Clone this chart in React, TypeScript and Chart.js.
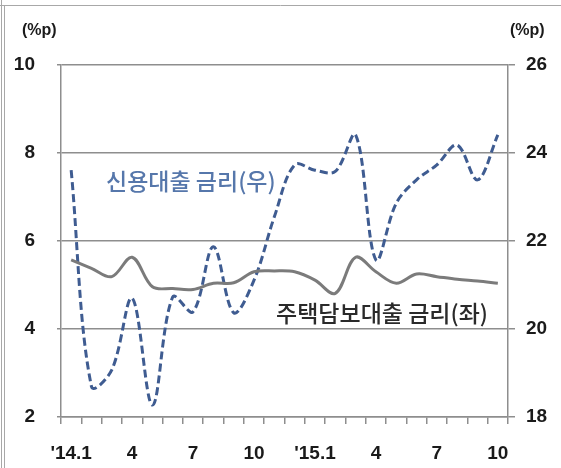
import React, { useEffect, useRef } from "react";
import { Chart, registerables } from "chart.js";

Chart.register(...registerables);

// Monthly spread series, Jan 2014 – Oct 2015
const months = ["'14.1", "2", "3", "4", "5", "6", "7", "8", "9", "10", "11", "12",
  "'15.1", "2", "3", "4", "5", "6", "7", "8", "9", "10"];
const mortgageRate = [5.57, 5.38, 5.19, 5.63, 4.96, 4.92, 4.90, 5.04, 5.05, 5.30, 5.32,
  5.30, 5.11, 4.81, 5.63, 5.30, 5.04, 5.25, 5.19, 5.13, 5.09, 5.04];
const creditRate = [23.61, 18.69, 19.07, 20.70, 18.27, 20.73, 20.39, 21.87, 20.37, 21.11, 22.55,
  23.73, 23.61, 23.58, 24.41, 21.57, 22.86, 23.39, 23.73, 24.18, 23.39, 24.41];
const leftTicks = [2, 4, 6, 8, 10];
const rightTicks = [18, 20, 22, 24, 26];
const unitLabel = "(%p)";
const creditLabel = "신용대출 금리(우)";
const mortgageLabel = "주택담보대출 금리(좌)";

const GRID = "#8e8e8e";
const TICK_FONT = { family: "'Liberation Sans', Arial, sans-serif", size: 19, weight: "bold" as const };

const decorPlugin = {
  id: "decor",
  beforeDraw(chart: Chart) {
    const { ctx, width, height } = chart;
    ctx.save();
    ctx.fillStyle = "#ffffff";
    ctx.fillRect(0, 0, width, height);
    ctx.strokeStyle = "#a8a8a8";
    ctx.lineWidth = 1;
    ctx.beginPath();
    ctx.moveTo(1.5, 0); ctx.lineTo(1.5, height);
    ctx.moveTo(4.5, 6); ctx.lineTo(4.5, height);
    ctx.moveTo(0, 5.5); ctx.lineTo(width, 5.5);
    ctx.stroke();
    ctx.restore();
  },
  afterDraw(chart: Chart) {
    const { ctx } = chart;
    ctx.save();
    ctx.textBaseline = "middle";
    ctx.fillStyle = "#1a1a1a";
    ctx.font = "bold 16px 'Liberation Sans', Arial, sans-serif";
    ctx.textAlign = "left";
    ctx.fillText(unitLabel, 22, 31);
    ctx.fillText(unitLabel, 510, 31);

    ctx.font = "500 23px 'Noto Sans CJK KR', sans-serif";
    ctx.fillStyle = "#5677ab";
    ctx.fillText(creditLabel, 106, 181);
    ctx.fillStyle = "#2a2a2a";
    ctx.fillText(mortgageLabel, 276, 313);
    ctx.restore();
  },
};

export default function App() {
  const ref = useRef<HTMLCanvasElement>(null);

  useEffect(() => {
    if (!ref.current) return;
    const chart = new Chart(ref.current, {
      type: "line",
      data: {
        labels: months,
        datasets: [
          {
            label: mortgageLabel,
            data: mortgageRate,
            yAxisID: "y",
            borderColor: "#7b7b7b",
            borderWidth: 3,
            pointRadius: 0,
            tension: 0.35,
            fill: false,
          },
          {
            label: creditLabel,
            data: creditRate,
            yAxisID: "y1",
            borderColor: "#3f5c91",
            borderWidth: 3,
            borderDash: [8, 4],
            pointRadius: 0,
            tension: 0.35,
            fill: false,
          },
        ],
      },
      options: {
        responsive: false,
        animation: false,
        layout: { padding: { top: 65, left: 0, right: 0, bottom: 0 } },
        plugins: { legend: { display: false }, tooltip: { enabled: false } },
        scales: {
          x: {
            offset: true,
            grid: { display: true, drawOnChartArea: false, offset: true, color: GRID, lineWidth: 1.5, tickLength: 7 },
            border: { display: true, color: GRID, width: 1.5 },
            ticks: {
              autoSkip: false,
              maxRotation: 0,
              padding: 18,
              color: "#1a1a1a",
              font: TICK_FONT,
              callback: (_v: any, i: number) => (i % 3 === 0 ? months[i] : ""),
            },
            afterFit: (s: any) => { s.height = 51; },
          },
          y: {
            position: "left",
            min: 2,
            max: 10,
            afterBuildTicks: (s: any) => { s.ticks = leftTicks.map((v) => ({ value: v })); },
            grid: { color: GRID, lineWidth: 1.5, tickLength: 4 },
            border: { display: true, color: GRID, width: 1.5 },
            ticks: { padding: 22, color: "#1a1a1a", font: TICK_FONT },
            afterFit: (s: any) => { s.width = 61; },
          },
          y1: {
            position: "right",
            min: 18,
            max: 26,
            afterBuildTicks: (s: any) => { s.ticks = rightTicks.map((v) => ({ value: v })); },
            grid: { drawOnChartArea: false, color: GRID, lineWidth: 1.5, tickLength: 7 },
            border: { display: true, color: GRID, width: 1.5 },
            ticks: { padding: 11, color: "#1a1a1a", font: TICK_FONT },
            afterFit: (s: any) => { s.width = 53; },
          },
        },
      },
      plugins: [decorPlugin],
    });
    return () => chart.destroy();
  }, []);

  return (
    <div style={{ position: "absolute", left: 0, top: 0, width: 561, height: 468 }}>
      <canvas ref={ref} width={561} height={468} style={{ width: 561, height: 468, display: "block" }} />
    </div>
  );
}
